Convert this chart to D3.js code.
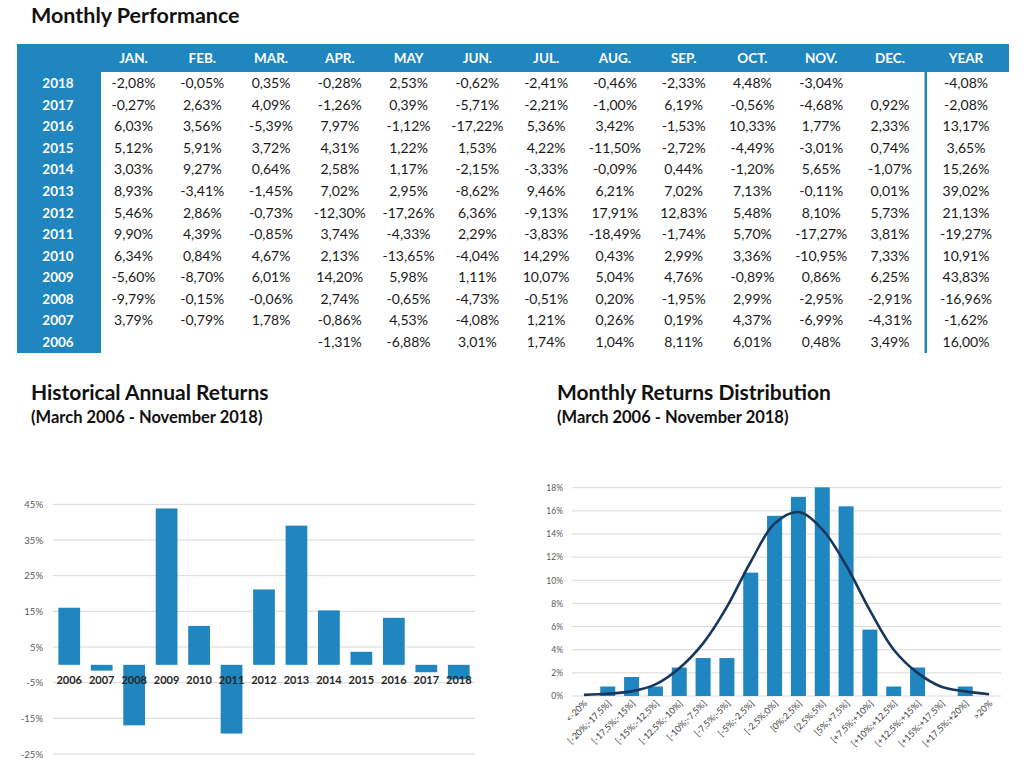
<!DOCTYPE html>
<html>
<head>
<meta charset="utf-8">
<script src="https://cdn.jsdelivr.net/npm/d3@7"></script>
<style>
  html, body { margin: 0; padding: 0; background: #fff; }
  svg { display: block; font-family: Lato, "Open Sans", sans-serif; }
</style>
</head>
<body>
<svg id="chart" width="1024" height="765"></svg>
<script>
// ---------- DATA ----------
const monthLabels = ["JAN.", "FEB.", "MAR.", "APR.", "MAY", "JUN.", "JUL.", "AUG.", "SEP.", "OCT.", "NOV.", "DEC."];
const tableYears = ["2018", "2017", "2016", "2015", "2014", "2013", "2012", "2011", "2010", "2009", "2008", "2007", "2006"];
const ret2018 = ["-2,08%", "-0,05%", "0,35%", "-0,28%", "2,53%", "-0,62%", "-2,41%", "-0,46%", "-2,33%", "4,48%", "-3,04%", ""];
const ret2017 = ["-0,27%", "2,63%", "4,09%", "-1,26%", "0,39%", "-5,71%", "-2,21%", "-1,00%", "6,19%", "-0,56%", "-4,68%", "0,92%"];
const ret2016 = ["6,03%", "3,56%", "-5,39%", "7,97%", "-1,12%", "-17,22%", "5,36%", "3,42%", "-1,53%", "10,33%", "1,77%", "2,33%"];
const ret2015 = ["5,12%", "5,91%", "3,72%", "4,31%", "1,22%", "1,53%", "4,22%", "-11,50%", "-2,72%", "-4,49%", "-3,01%", "0,74%"];
const ret2014 = ["3,03%", "9,27%", "0,64%", "2,58%", "1,17%", "-2,15%", "-3,33%", "-0,09%", "0,44%", "-1,20%", "5,65%", "-1,07%"];
const ret2013 = ["8,93%", "-3,41%", "-1,45%", "7,02%", "2,95%", "-8,62%", "9,46%", "6,21%", "7,02%", "7,13%", "-0,11%", "0,01%"];
const ret2012 = ["5,46%", "2,86%", "-0,73%", "-12,30%", "-17,26%", "6,36%", "-9,13%", "17,91%", "12,83%", "5,48%", "8,10%", "5,73%"];
const ret2011 = ["9,90%", "4,39%", "-0,85%", "3,74%", "-4,33%", "2,29%", "-3,83%", "-18,49%", "-1,74%", "5,70%", "-17,27%", "3,81%"];
const ret2010 = ["6,34%", "0,84%", "4,67%", "2,13%", "-13,65%", "-4,04%", "14,29%", "0,43%", "2,99%", "3,36%", "-10,95%", "7,33%"];
const ret2009 = ["-5,60%", "-8,70%", "6,01%", "14,20%", "5,98%", "1,11%", "10,07%", "5,04%", "4,76%", "-0,89%", "0,86%", "6,25%"];
const ret2008 = ["-9,79%", "-0,15%", "-0,06%", "2,74%", "-0,65%", "-4,73%", "-0,51%", "0,20%", "-1,95%", "2,99%", "-2,95%", "-2,91%"];
const ret2007 = ["3,79%", "-0,79%", "1,78%", "-0,86%", "4,53%", "-4,08%", "1,21%", "0,26%", "0,19%", "4,37%", "-6,99%", "-4,31%"];
const ret2006 = ["", "", "", "-1,31%", "-6,88%", "3,01%", "1,74%", "1,04%", "8,11%", "6,01%", "0,48%", "3,49%"];
const yearTotals = ["-4,08%", "-2,08%", "13,17%", "3,65%", "15,26%", "39,02%", "21,13%", "-19,27%", "10,91%", "43,83%", "-16,96%", "-1,62%", "16,00%"];

const annualYears = ["2006", "2007", "2008", "2009", "2010", "2011", "2012", "2013", "2014", "2015", "2016", "2017", "2018"];
const annualReturns = [16.00, -1.62, -16.96, 43.83, 10.91, -19.27, 21.13, 39.02, 15.26, 3.65, 13.17, -2.08, -4.08];
const annualTicks = [-25, -15, -5, 5, 15, 25, 35, 45];

const distCategories = ["<-20%", "[-20%;-17,5%]", "[-17,5%;-15%]", "[-15%;-12,5%]", "[-12,5%;-10%]", "[-10%;-7,5%]",
  "[-7,5%;-5%]", "[-5%;-2,5%]", "[-2,5%;0%]", "[0%;2,5%]", "[2,5%;5%]", "[5%;+7,5%]", "[+7,5%;+10%]",
  "[+10%;+12,5%]", "[+12,5%;+15%]", "[+15%;+17,5%]", "[+17,5%;+20%]", ">20%"];
const distFrequency = [0, 0.82, 1.64, 0.82, 2.46, 3.28, 3.28, 10.66, 15.57, 17.21, 18.03, 16.39, 5.74, 0.82, 2.46, 0, 0.82, 0];
const distNormal = [0.1, 0.2, 0.4, 1.0, 2.4, 4.55, 7.7, 11.6, 14.9, 15.9, 14.4, 11.3, 7.4, 4.0, 2.0, 0.8, 0.4, 0.15];
const distTicks = [0, 2, 4, 6, 8, 10, 12, 14, 16, 18];

const tableRows = [ret2018, ret2017, ret2016, ret2015, ret2014, ret2013, ret2012, ret2011, ret2010, ret2009, ret2008, ret2007, ret2006];

// ---------- STYLE ----------
const BLUE = "#1f86bf";
const NAVY = "#17375e";
const GRID = "#d9d9d9";
const AXIS_TXT = "#595959";

const svg = d3.select("#chart");

// ---------- TABLE ----------
svg.append("text").attr("x", 31).attr("y", 23).attr("font-size", 21.5).attr("font-weight", "bold")
  .attr("fill", "#111").text("Monthly Performance");

svg.append("rect").attr("x", 17).attr("y", 44).attr("width", 992).attr("height", 28).attr("fill", BLUE);
svg.append("rect").attr("x", 17).attr("y", 44).attr("width", 84).attr("height", 309).attr("fill", BLUE);
svg.append("rect").attr("x", 924.5).attr("y", 70).attr("width", 2.5).attr("height", 283).attr("fill", BLUE);

const colX = d3.scalePoint().domain(monthLabels).range([133.5, 890]);
const yearColX = 966;
const rowY = d3.scalePoint().domain(tableYears).range([83, 342]);

const header = svg.append("g").attr("font-size", 13.5).attr("font-weight", "bold").attr("fill", "#fff").attr("text-anchor", "middle");
header.selectAll("text.m").data(monthLabels).join("text").attr("class", "m")
  .attr("x", d => colX(d)).attr("y", 63).text(d => d);
header.append("text").attr("x", yearColX).attr("y", 63).text("YEAR");

header.selectAll("text.y").data(tableYears).join("text").attr("class", "y")
  .attr("x", 58).attr("y", d => rowY(d) + 5).text(d => d);

const body = svg.append("g").attr("font-size", 14).attr("fill", "#1a1a1a").attr("text-anchor", "middle");
tableYears.forEach((yr, i) => {
  const row = tableRows[i];
  body.selectAll(null).data(row.map((v, j) => ({ v, m: monthLabels[j] }))).join("text")
    .attr("x", d => colX(d.m)).attr("y", rowY(yr) + 5).text(d => d.v);
  body.append("text").attr("x", yearColX).attr("y", rowY(yr) + 5).text(yearTotals[i]);
});

// ---------- HISTORICAL ANNUAL RETURNS ----------
svg.append("text").attr("x", 31).attr("y", 400).attr("font-size", 21).attr("font-weight", "bold")
  .attr("fill", "#111").text("Historical Annual Returns");
svg.append("text").attr("x", 31).attr("y", 423).attr("font-size", 16.5).attr("font-weight", "bold")
  .attr("fill", "#111").text("(March 2006 - November 2018)");

const ax = d3.scaleBand().domain(annualYears).range([53, 475]).paddingInner(0.33).paddingOuter(0.165);
const ay = d3.scaleLinear().domain([-25, 45]).range([754, 504.3]);

svg.append("g").selectAll("line").data(annualTicks).join("line")
  .attr("x1", 53).attr("x2", 475).attr("y1", d => ay(d)).attr("y2", d => ay(d))
  .attr("stroke", GRID).attr("stroke-width", 1);

const aAxis = svg.append("g").attr("transform", "translate(53,0)")
  .call(d3.axisLeft(ay).tickValues(annualTicks).tickFormat(d => d + "%").tickSize(0).tickPadding(10));
aAxis.select(".domain").remove();
aAxis.selectAll("text").attr("font-size", 9.5).attr("fill", AXIS_TXT).attr("font-family", "Lato, sans-serif");

svg.append("g").selectAll("rect").data(annualYears).join("rect")
  .attr("x", d => ax(d)).attr("width", ax.bandwidth())
  .attr("y", (d, i) => ay(Math.max(0, annualReturns[i])))
  .attr("height", (d, i) => Math.abs(ay(annualReturns[i]) - ay(0)))
  .attr("fill", BLUE);

svg.append("g").attr("font-size", 11).attr("font-weight", "bold").attr("fill", "#262626").attr("text-anchor", "middle")
  .selectAll("text").data(annualYears).join("text")
  .attr("x", d => ax(d) + ax.bandwidth() / 2).attr("y", 684).text(d => d);

// ---------- MONTHLY RETURNS DISTRIBUTION ----------
svg.append("text").attr("x", 557).attr("y", 400).attr("font-size", 21).attr("font-weight", "bold")
  .attr("fill", "#111").text("Monthly Returns Distribution");
svg.append("text").attr("x", 557).attr("y", 423).attr("font-size", 16.5).attr("font-weight", "bold")
  .attr("fill", "#111").text("(March 2006 - November 2018)");

const dx = d3.scaleBand().domain(distCategories).range([572, 1001]).paddingInner(0.37).paddingOuter(0.185);
const dy = d3.scaleLinear().domain([0, 18]).range([696, 487.7]);

svg.append("g").selectAll("line").data(distTicks).join("line")
  .attr("x1", 572).attr("x2", 1001).attr("y1", d => dy(d)).attr("y2", d => dy(d))
  .attr("stroke", GRID).attr("stroke-width", 1);

const dAxis = svg.append("g").attr("transform", "translate(572,0)")
  .call(d3.axisLeft(dy).tickValues(distTicks).tickFormat(d => d + "%").tickSize(0).tickPadding(9));
dAxis.select(".domain").remove();
dAxis.selectAll("text").attr("font-size", 8.5).attr("fill", AXIS_TXT).attr("font-family", "Lato, sans-serif");

svg.append("g").selectAll("rect").data(distCategories).join("rect")
  .attr("x", d => dx(d)).attr("width", dx.bandwidth())
  .attr("y", (d, i) => dy(distFrequency[i]))
  .attr("height", (d, i) => dy(0) - dy(distFrequency[i]))
  .attr("fill", BLUE);

const line = d3.line()
  .x((d, i) => dx(distCategories[i]) + dx.bandwidth() / 2)
  .y(d => dy(d))
  .curve(d3.curveCatmullRom.alpha(0.5));
svg.append("path").datum(distNormal).attr("d", line)
  .attr("fill", "none").attr("stroke", NAVY).attr("stroke-width", 2.6);

svg.append("g").attr("font-size", 9).attr("fill", "#404040").attr("text-anchor", "end")
  .selectAll("text").data(distCategories).join("text")
  .attr("transform", d => `translate(${dx(d) + dx.bandwidth() / 2 + 4},${704}) rotate(-45)`)
  .text(d => d);
</script>
</body>
</html>
